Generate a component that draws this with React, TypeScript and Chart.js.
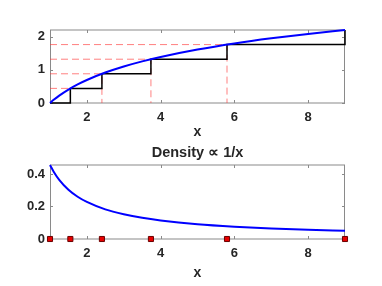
import React, { useEffect, useRef } from "react";
import { Chart, registerables } from "chart.js";

Chart.register(...registerables);

// Quantile knots and CDF levels
const knotX = [1, 1.552, 2.408, 3.737, 5.8, 9];
const knotY = [0, 0.44, 0.879, 1.318, 1.758, 2.197];
// Smooth curves
const curveX = [1, 1.1, 1.25, 1.5, 1.75, 2, 2.5, 3, 3.5, 4, 5, 6, 7, 8, 9];
const cdfY = [0, 0.095, 0.223, 0.405, 0.56, 0.693, 0.916, 1.099, 1.253, 1.386, 1.609, 1.792, 1.946, 2.079, 2.197];
const densityY = [0.455, 0.414, 0.364, 0.303, 0.26, 0.228, 0.182, 0.152, 0.13, 0.114, 0.091, 0.076, 0.065, 0.057, 0.051];
// Axes
const xTicks = [2, 4, 6, 8];
const topYTicks = [0, 1, 2];
const bottomYTicks = [0, 0.2, 0.4];
const xMin = 1;
const xMax = 9;
const topYMax = 2.197;
const bottomYMax = 0.455;
const bottomTitle = "Density \u221D 1/x";
const xLabel = "x";

const FONT = "'Liberation Sans', Arial, Helvetica, sans-serif";
const TEXT = "#262626";

const axesPlugin = {
  id: "matlabAxes",
  beforeDatasetsDraw(chart: any) {
    const { ctx, chartArea } = chart;
    const { left, right, top, bottom } = chartArea;
    const xs = chart.scales.x;
    const ys = chart.scales.y;
    ctx.save();
    ctx.strokeStyle = "#c4c4c4";
    ctx.lineWidth = 2;
    ctx.beginPath();
    ctx.moveTo(left, top);
    ctx.lineTo(right, top);
    ctx.stroke();
    ctx.beginPath();
    ctx.moveTo(left, bottom);
    ctx.lineTo(right, bottom);
    ctx.stroke();
    ctx.lineWidth = 1;
    ctx.strokeStyle = "#8a8a8a";
    ctx.beginPath();
    ctx.moveTo(left + 0.5, top);
    ctx.lineTo(left + 0.5, bottom);
    ctx.moveTo(right - 0.5, top);
    ctx.lineTo(right - 0.5, bottom);
    ctx.stroke();
    const tl = 3;
    ctx.beginPath();
    for (const t of xs.ticks) {
      const px = Math.round(xs.getPixelForValue(t.value)) + 0.5;
      ctx.moveTo(px, bottom);
      ctx.lineTo(px, bottom - tl);
      ctx.moveTo(px, top);
      ctx.lineTo(px, top + tl);
    }
    for (const t of ys.ticks) {
      const py = Math.round(ys.getPixelForValue(t.value)) + 0.5;
      ctx.moveTo(left, py);
      ctx.lineTo(left + tl, py);
      ctx.moveTo(right, py);
      ctx.lineTo(right - tl, py);
    }
    ctx.stroke();
    ctx.restore();
  },
};

function xScale(height: number) {
  return {
    type: "linear" as const,
    min: xMin,
    max: xMax,
    afterBuildTicks: (s: any) => {
      s.ticks = xTicks.map((v) => ({ value: v }));
    },
    afterFit: (s: any) => {
      s.height = height;
    },
    grid: { display: false, drawTicks: false },
    border: { display: false },
    ticks: {
      padding: 7,
      color: TEXT,
      font: { family: FONT, size: 13, weight: "bold" as const },
    },
    title: {
      display: true,
      text: xLabel,
      color: TEXT,
      padding: { top: 0, bottom: 4 },
      font: { family: FONT, size: 14, weight: "bold" as const },
    },
  };
}

function yScale(max: number, ticks: number[]) {
  return {
    type: "linear" as const,
    min: 0,
    max,
    afterBuildTicks: (s: any) => {
      s.ticks = ticks.map((v) => ({ value: v }));
    },
    afterFit: (s: any) => {
      s.width = 50;
    },
    grid: { display: false, drawTicks: false },
    border: { display: false },
    ticks: {
      padding: 5,
      color: TEXT,
      font: { family: FONT, size: 13, weight: "bold" as const },
      callback: (v: any) => String(v),
    },
  };
}

export default function App() {
  const topRef = useRef<HTMLCanvasElement>(null);
  const botRef = useRef<HTMLCanvasElement>(null);

  useEffect(() => {
    const curve = curveX.map((x, i) => ({ x, y: cdfY[i] }));
    const stairs = knotX.map((x, i) => ({ x, y: knotY[i] }));
    const dashed: any[] = [];
    for (let k = 1; k < knotX.length - 1; k++) {
      dashed.push({ x: xMin, y: knotY[k] });
      dashed.push({ x: knotX[k], y: knotY[k] });
      dashed.push({ x: knotX[k], y: 0 });
      dashed.push({ x: knotX[k], y: null });
    }
    const top = new Chart(topRef.current!, {
      type: "line",
      data: {
        datasets: [
          {
            data: curve,
            borderColor: "#0000ff",
            borderWidth: 2,
            pointRadius: 0,
            cubicInterpolationMode: "monotone",
            clip: false as any,
            order: 0,
          },
          {
            data: stairs,
            borderColor: "#000000",
            borderWidth: 1.5,
            pointRadius: 0,
            stepped: "before",
            clip: false as any,
            order: 1,
          },
          {
            data: dashed,
            borderColor: "rgba(255,60,60,0.65)",
            borderWidth: 1,
            borderDash: [7, 4],
            pointRadius: 0,
            spanGaps: false,
            clip: false as any,
            order: 2,
          },
        ],
      },
      options: {
        animation: false,
        responsive: false,
        layout: { padding: { top: 30, right: 37, left: 0, bottom: 0 } },
        plugins: { legend: { display: false }, tooltip: { enabled: false }, title: { display: false } },
        scales: { x: xScale(42), y: yScale(topYMax, topYTicks) } as any,
      },
      plugins: [axesPlugin],
    } as any);

    const dens = curveX.map((x, i) => ({ x, y: densityY[i] }));
    const marks = knotX.map((x) => ({ x, y: 0 }));
    const bot = new Chart(botRef.current!, {
      type: "line",
      data: {
        datasets: [
          {
            data: marks,
            showLine: false,
            pointStyle: "rect",
            pointRadius: 3.6,
            pointBackgroundColor: "#e60000",
            pointBorderColor: "#6a0000",
            pointBorderWidth: 1,
            clip: false as any,
            order: 0,
          },
          {
            data: dens,
            borderColor: "#0000ff",
            borderWidth: 2,
            pointRadius: 0,
            cubicInterpolationMode: "monotone",
            clip: false as any,
            order: 1,
          },
        ],
      },
      options: {
        animation: false,
        responsive: false,
        layout: { padding: { top: 0, right: 37, left: 0, bottom: 0 } },
        plugins: {
          legend: { display: false },
          tooltip: { enabled: false },
          title: {
            display: true,
            text: bottomTitle,
            fullSize: false,
            color: TEXT,
            padding: { top: 4, bottom: 3.6 },
            font: { family: FONT, size: 14.5, weight: "bold" },
          },
        },
        scales: { x: xScale(47), y: yScale(bottomYMax, bottomYTicks) } as any,
      },
      plugins: [axesPlugin],
    } as any);

    return () => {
      top.destroy();
      bot.destroy();
    };
  }, []);

  return (
    <div style={{ position: "fixed", left: 0, top: 0, width: 382, height: 286, background: "#fff" }}>
      <canvas ref={topRef} width={382} height={145} style={{ position: "absolute", left: 0, top: 0 }} />
      <canvas ref={botRef} width={382} height={146} style={{ position: "absolute", left: 0, top: 140 }} />
    </div>
  );
}
